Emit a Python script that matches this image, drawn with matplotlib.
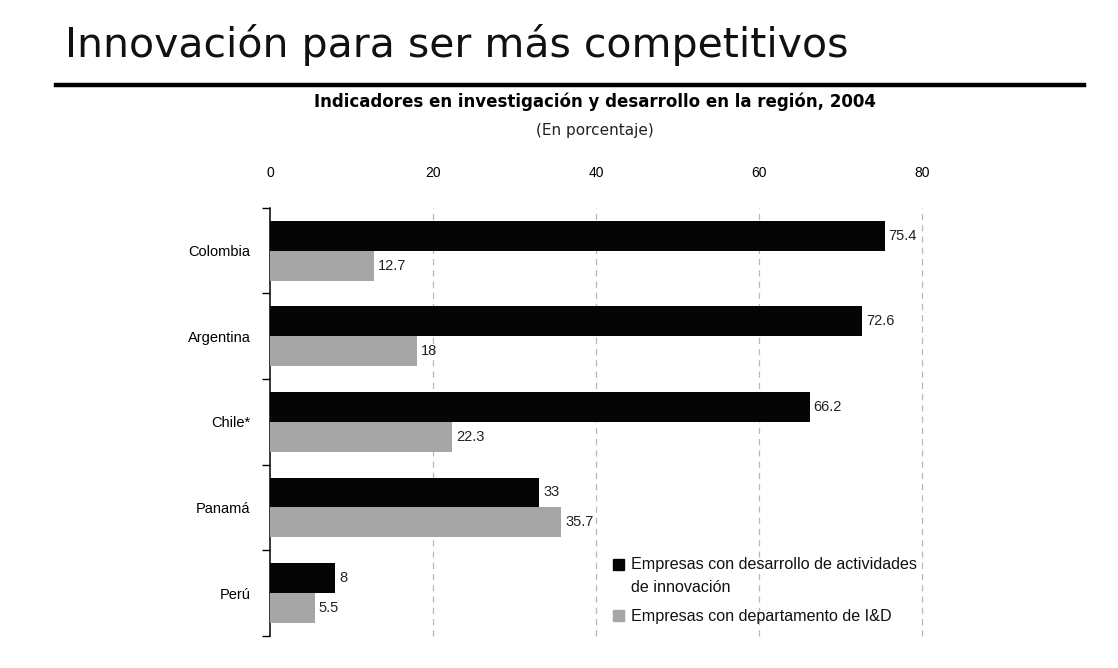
import matplotlib.pyplot as plt
import matplotlib.lines as mlines
import matplotlib.patches as mpatches
import numpy as np

# datos del grafico
paises = ["Colombia", "Argentina", "Chile*", "Panamá", "Perú"]
innovacion = [75.4, 72.6, 66.2, 33, 8]
depto_id = [12.7, 18, 22.3, 35.7, 5.5]
ticks_x = [0, 20, 40, 60, 80]
series = ["Empresas con desarrollo de actividades\nde innovación",
          "Empresas con departamento de I&D"]

negro = "#050505"
gris = "#a6a6a6"
fuente = "Liberation Sans"

W, H = 1118, 668
fig = plt.figure(figsize=(W / 100, H / 100), dpi=100)
fig.patch.set_facecolor("white")

# titulo de la lamina y linea
fig.text(0.058, 0.933, "Innovación para ser más competitivos", fontsize=29.5,
         family="DejaVu Sans", va="center", ha="left", color="#111111")
fig.add_artist(mlines.Line2D([0.05, 0.97], [0.873, 0.873], color="black", lw=3.2,
                             transform=fig.transFigure))
fig.text(0.532, 0.847, "Indicadores en investigación y desarrollo en la región, 2004",
         fontsize=12, fontweight="bold", family="DejaVu Sans", ha="center", va="center")
fig.text(0.532, 0.804, "(En porcentaje)", fontsize=11, family="DejaVu Sans",
         ha="center", va="center", color="#222222")

ax = fig.add_axes([0.2415, 0.048, 0.5832, 0.641])
y = np.arange(len(paises))
h = 0.35
b1 = ax.barh(y - h / 2, innovacion, height=h, color=negro, zorder=3)
b2 = ax.barh(y + h / 2, depto_id, height=h, color=gris, zorder=3)

for barras, vals in ((b1, innovacion), (b2, depto_id)):
    for r, v in zip(barras, vals):
        ax.text(r.get_width() + 0.5, r.get_y() + r.get_height() / 2, f"{v:g}",
                va="center", ha="left", fontsize=10.5, family=fuente, color="#222222")

ax.set_xlim(0, 80)
ax.set_ylim(len(paises) - 0.5, -0.5)

for xv in ticks_x[1:]:
    ax.axvline(xv, color="#b8b8b8", lw=0.9, ls=(0, (5, 4)), zorder=1, clip_on=False)

ax.xaxis.tick_top()
ax.set_xticks(ticks_x)
ax.set_xticklabels([str(t) for t in ticks_x], family=fuente, fontsize=10)
ax.tick_params(axis="x", length=0, pad=20)

ax.set_yticks(y)
ax.set_yticklabels(paises, family=fuente, fontsize=10.5)
ax.tick_params(axis="y", which="major", length=0, pad=14)
ax.set_yticks(np.arange(len(paises) + 1) - 0.5, minor=True)
ax.tick_params(axis="y", which="minor", length=6, width=1, direction="out")

for s in ("top", "right", "bottom"):
    ax.spines[s].set_visible(False)
ax.spines["left"].set_linewidth(1.1)

# leyenda a mano: cuadro alineado con la primera linea de cada texto
lado_x, lado_y = 11 / W, 11 / H
for color, texto, ytop in ((negro, series[0], 559), (gris, series[1], 610)):
    fig.add_artist(mpatches.Rectangle((613 / W, 1 - (ytop + 11) / H), lado_x, lado_y,
                                      color=color, transform=fig.transFigure))
    for i, linea in enumerate(texto.split("\n")):
        fig.text(631 / W, 1 - (ytop + 6 + 22 * i) / H, linea, family=fuente,
                 fontsize=11.6, va="center", ha="left", color="#111111")

fig.savefig("out.png", dpi=100, facecolor="white")
